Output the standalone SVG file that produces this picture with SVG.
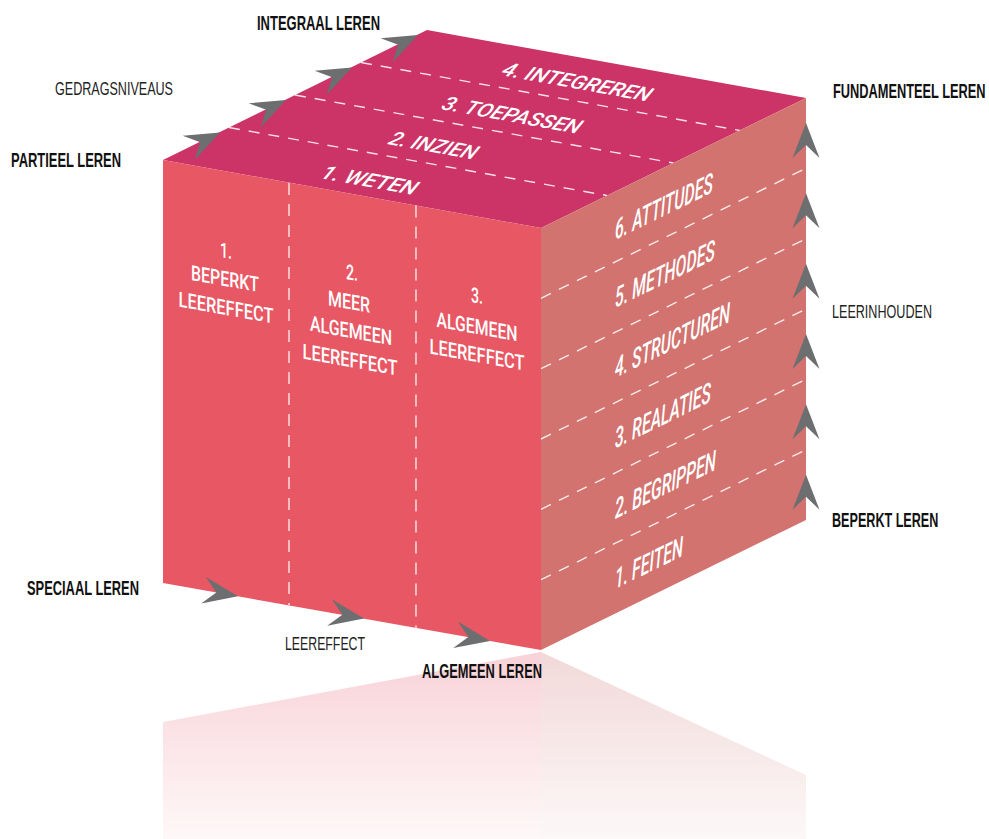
<svg xmlns="http://www.w3.org/2000/svg" width="989" height="839" viewBox="0 0 989 839">
<defs>
  <linearGradient id="rf" gradientUnits="userSpaceOnUse" x1="0" y1="650" x2="0" y2="839">
    <stop offset="0" stop-color="#f8d2d8"/>
    <stop offset="1" stop-color="#fef8f8"/>
  </linearGradient>
  <linearGradient id="rr" gradientUnits="userSpaceOnUse" x1="0" y1="650" x2="0" y2="839">
    <stop offset="0" stop-color="#f2d8d8"/>
    <stop offset="1" stop-color="#fcf8f8"/>
  </linearGradient>
  <path id="arr" d="M0,0 L-35,-13.5 L-22,0 L-35,13.5 Z"/>
</defs>
<style>
  .dash{fill:none;stroke:#ffffff;stroke-width:1.4;stroke-dasharray:11 9;opacity:0.85}
  .arrow{fill:#6d6e70}
  .lab{font-family:'Liberation Sans',Arial,sans-serif;fill:#111111}
  .b{font-weight:bold;font-size:20px}
  .r{font-size:18px;fill:#222222}
  .w{font-family:Roboto,'Liberation Sans',Arial,sans-serif;font-weight:500;fill:#ffffff}
  .fw{font-size:21px}
  .tw{font-size:18px;font-style:italic}
  .rw{font-size:28px;font-style:italic}
</style>

<g id="reflection">
  <polygon points="163,722 541,652 541,839 163,839" fill="url(#rf)"/>
  <polygon points="541,652 806,775 806,839 541,839" fill="url(#rr)"/>
</g>

<g id="cube">
  <g id="top-face">
    <polygon points="163,160 427,30 806,98 541,228" fill="#cc3366"/>
    <line class="dash" x1="229" y1="127.5" x2="607" y2="195.5"/>
    <line class="dash" x1="295" y1="95" x2="673.5" y2="163"/>
    <line class="dash" x1="361" y1="62.5" x2="740" y2="130.5"/>
    <text class="w tw" transform="matrix(1,0.18,-0.6,1,319,178)" textLength="94" lengthAdjust="spacingAndGlyphs">1. WETEN</text>
    <text class="w tw" transform="matrix(1,0.18,-0.6,1,387,144)" textLength="86" lengthAdjust="spacingAndGlyphs">2. INZIEN</text>
    <text class="w tw" transform="matrix(1,0.18,-0.6,1,440,109)" textLength="137" lengthAdjust="spacingAndGlyphs">3. TOEPASSEN</text>
    <text class="w tw" transform="matrix(1,0.18,-0.6,1,500,75)" textLength="147" lengthAdjust="spacingAndGlyphs">4. INTEGREREN</text>
  </g>

  <g id="front-face">
    <polygon points="163,160 541,228 541,650 163,583" fill="#e85764"/>
    <line class="dash" x1="289" y1="183" x2="289" y2="605" style="stroke-dasharray:12 9"/>
    <line class="dash" x1="416" y1="205.5" x2="416" y2="628" style="stroke-dasharray:12 9"/>
    <g id="col1">
      <text class="w fw" text-anchor="middle" transform="translate(226,258) skewY(10.2)" textLength="12" lengthAdjust="spacingAndGlyphs">1.</text>
      <text class="w fw" text-anchor="middle" transform="translate(225,286) skewY(10.2)" textLength="68" lengthAdjust="spacingAndGlyphs">BEPERKT</text>
      <text class="w fw" text-anchor="middle" transform="translate(226,315) skewY(10.2)" textLength="95" lengthAdjust="spacingAndGlyphs">LEEREFFECT</text>
    </g>
    <g id="col2">
      <text class="w fw" text-anchor="middle" transform="translate(352,280) skewY(10.2)" textLength="12" lengthAdjust="spacingAndGlyphs">2.</text>
      <text class="w fw" text-anchor="middle" transform="translate(349,309) skewY(10.2)" textLength="42" lengthAdjust="spacingAndGlyphs">MEER</text>
      <text class="w fw" text-anchor="middle" transform="translate(351,338) skewY(10.2)" textLength="82" lengthAdjust="spacingAndGlyphs">ALGEMEEN</text>
      <text class="w fw" text-anchor="middle" transform="translate(350,367) skewY(10.2)" textLength="95" lengthAdjust="spacingAndGlyphs">LEEREFFECT</text>
    </g>
    <g id="col3">
      <text class="w fw" text-anchor="middle" transform="translate(477,303) skewY(10.2)" textLength="12" lengthAdjust="spacingAndGlyphs">3.</text>
      <text class="w fw" text-anchor="middle" transform="translate(477,334) skewY(10.2)" textLength="81" lengthAdjust="spacingAndGlyphs">ALGEMEEN</text>
      <text class="w fw" text-anchor="middle" transform="translate(477,362) skewY(10.2)" textLength="95" lengthAdjust="spacingAndGlyphs">LEEREFFECT</text>
    </g>
  </g>

  <g id="right-face">
    <polygon points="541,228 806,98 806,520 541,650" fill="#d27370"/>
    <line class="dash" x1="541" y1="298.3" x2="806" y2="168.3"/>
    <line class="dash" x1="541" y1="368.7" x2="806" y2="238.7"/>
    <line class="dash" x1="541" y1="439" x2="806" y2="309"/>
    <line class="dash" x1="541" y1="509.3" x2="806" y2="379.3"/>
    <line class="dash" x1="541" y1="579.7" x2="806" y2="449.7"/>
    <text class="w rw" transform="translate(615,240) skewY(-26.13)" textLength="98" lengthAdjust="spacingAndGlyphs">6. ATTITUDES</text>
    <text class="w rw" transform="translate(615,308) skewY(-26.13)" textLength="100" lengthAdjust="spacingAndGlyphs">5. METHODES</text>
    <text class="w rw" transform="translate(615,378) skewY(-26.13)" textLength="115" lengthAdjust="spacingAndGlyphs">4. STRUCTUREN</text>
    <text class="w rw" transform="translate(615,448.5) skewY(-26.13)" textLength="96" lengthAdjust="spacingAndGlyphs">3. REALATIES</text>
    <text class="w rw" transform="translate(615,519) skewY(-26.13)" textLength="101" lengthAdjust="spacingAndGlyphs">2. BEGRIPPEN</text>
    <text class="w rw" transform="translate(615,589) skewY(-26.13)" textLength="68" lengthAdjust="spacingAndGlyphs">1. FEITEN</text>
  </g>
</g>

<g id="connectors" class="arrow">
  <use href="#arr" transform="translate(220,132.5) rotate(-26.2)"/>
  <use href="#arr" transform="translate(286,100) rotate(-26.2)"/>
  <use href="#arr" transform="translate(352,67.5) rotate(-26.2)"/>
  <use href="#arr" transform="translate(418,35) rotate(-26.2)"/>
  <use href="#arr" transform="translate(806,123) rotate(-90)"/>
  <use href="#arr" transform="translate(806,193.3) rotate(-90)"/>
  <use href="#arr" transform="translate(806,263.7) rotate(-90)"/>
  <use href="#arr" transform="translate(806,334) rotate(-90)"/>
  <use href="#arr" transform="translate(806,404.3) rotate(-90)"/>
  <use href="#arr" transform="translate(806,474.7) rotate(-90)"/>
  <use href="#arr" transform="translate(238,596.3) rotate(10.05)"/>
  <use href="#arr" transform="translate(364,618.6) rotate(10.05)"/>
  <use href="#arr" transform="translate(490,640.9) rotate(10.05)"/>
</g>

<g id="labels">
  <text id="integraal" class="lab b" x="257" y="30" textLength="123" lengthAdjust="spacingAndGlyphs">INTEGRAAL LEREN</text>
  <text id="gedrag" class="lab r" x="55" y="95" textLength="118" lengthAdjust="spacingAndGlyphs">GEDRAGSNIVEAUS</text>
  <text id="partieel" class="lab b" x="11" y="167" textLength="110" lengthAdjust="spacingAndGlyphs">PARTIEEL LEREN</text>
  <text id="fundamenteel" class="lab b" transform="translate(833,98) scale(0.64,1)">FUNDAMENTEEL LEREN</text>
  <text id="leerinhouden" class="lab r" x="832" y="318" textLength="100" lengthAdjust="spacingAndGlyphs">LEERINHOUDEN</text>
  <text id="beperkt" class="lab b" transform="translate(832,527) scale(0.63,1)">BEPERKT LEREN</text>
  <text id="speciaal" class="lab b" x="27" y="595" textLength="112" lengthAdjust="spacingAndGlyphs">SPECIAAL LEREN</text>
  <text id="leereffect" class="lab r" x="285" y="650" textLength="80" lengthAdjust="spacingAndGlyphs">LEEREFFECT</text>
  <text id="algemeen" class="lab b" x="422" y="678" textLength="120" lengthAdjust="spacingAndGlyphs">ALGEMEEN LEREN</text>
</g>
</svg>
